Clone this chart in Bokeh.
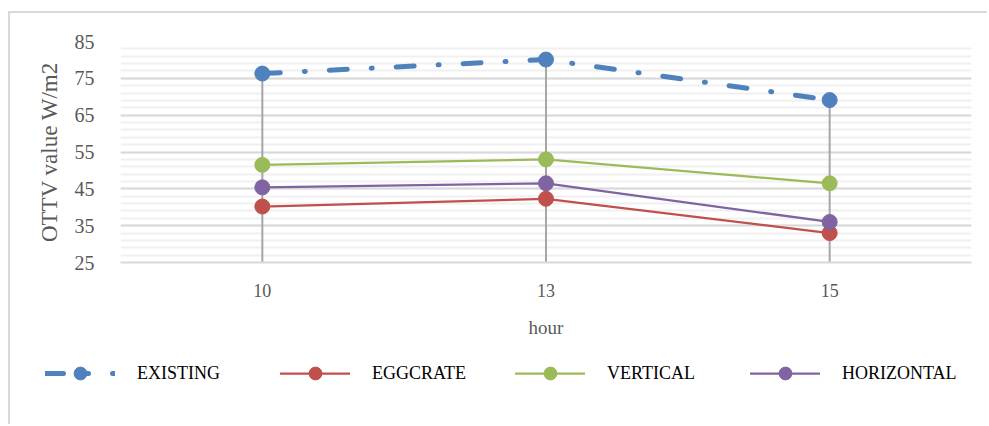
from bokeh.plotting import figure
from bokeh.models import FactorRange, Range1d, FixedTicker, Legend, LegendItem
from bokeh.layouts import column
from bokeh.embed import file_html
from bokeh.resources import INLINE

hours = ["10", "13", "15"]
existing = [76.3, 80.1, 69.1]
eggcrate = [40.2, 42.3, 33.0]
vertical = [51.5, 53.0, 46.5]
horizontal = [45.4, 46.5, 36.0]
y_ticks = [25, 35, 45, 55, 65, 75, 85]
y_minor = list(range(25, 86, 2))

p = figure(x_range=FactorRange(factors=hours, range_padding=0),
           y_range=Range1d(25, 85),
           width=979, height=327, output_backend="svg", toolbar_location=None,
           min_border_left=110, min_border_right=18, min_border_top=28, min_border_bottom=77)
p.margin = (11, 0, 0, 8)
p.styles = {"border-left": "2px solid #D9D9D9", "border-top": "2px solid #D9D9D9"}
p.outline_line_color = None
p.background_fill_color = "white"
p.border_fill_color = "white"

# grid
p.xgrid.grid_line_color = None
p.yaxis.ticker = FixedTicker(ticks=y_ticks, minor_ticks=y_minor)
p.ygrid.grid_line_color = "#D9D9D9"
p.ygrid.grid_line_width = 2
p.ygrid.minor_grid_line_color = "#F0F0F0"
p.ygrid.minor_grid_line_width = 2

# axes
for ax in (p.xaxis[0], p.yaxis[0]):
    ax.major_label_text_font = "Liberation Serif"
    ax.major_label_text_color = "#595959"
    ax.axis_label_text_font = "Liberation Serif"
    ax.axis_label_text_color = "#595959"
    ax.axis_label_text_font_style = "normal"
    ax.major_tick_line_color = None
    ax.minor_tick_line_color = None
p.yaxis.axis_line_color = None
p.yaxis.major_label_text_font_size = "20px"
p.yaxis.major_label_standoff = 20
p.yaxis.axis_label = "OTTV value W/m2"
p.yaxis.axis_label_text_font_size = "23px"
p.yaxis.axis_label_standoff = 10
p.xaxis.axis_line_color = "#D9D9D9"
p.xaxis.axis_line_width = 2
p.xaxis.major_label_text_font_size = "18px"
p.xaxis.major_label_standoff = 15
p.xaxis.axis_label = "hour"
p.xaxis.axis_label_text_font_size = "19px"
p.xaxis.axis_label_standoff = 17

# drop lines
tops = [max(a, b, c, d) for a, b, c, d in zip(existing, eggcrate, vertical, horizontal)]
p.segment(x0=hours, y0=tops, x1=hours, y1=[25] * len(hours), line_color="#A6A6A6", line_width=2)

series = [
    ("EXISTING", existing, "#4F81BD", 5, "18 24 1 24"),
    ("EGGCRATE", eggcrate, "#C0504D", 2.25, "solid"),
    ("VERTICAL", vertical, "#9BBB59", 2.25, "solid"),
    ("HORIZONTAL", horizontal, "#8064A2", 2.25, "solid"),
]

# legend strip (its own figure; data drawn out of its visible range, only the legend shows)
q = figure(x_range=FactorRange(factors=hours, range_padding=0), y_range=Range1d(1000, 1001),
           width=979, height=86,
           output_backend="svg", toolbar_location=None, x_axis_type=None, y_axis_type=None,
           min_border=0)
q.margin = (0, 0, 0, 8)
q.styles = {"border-left": "2px solid #D9D9D9"}
q.outline_line_color = None
q.xgrid.grid_line_color = None
q.ygrid.grid_line_color = None
leg_x = -75
if "frame_align" in q.properties():
    q.frame_align = False
    p.frame_align = False
    leg_x = 35

items = []
for name, vals, col, lw, dash in series:
    p.line(hours, vals, line_color=col, line_width=lw, line_dash=dash, line_cap="round")
    p.scatter(hours, vals, size=15, fill_color=col, line_color=col)
    lr = q.line(hours, vals, line_color=col, line_width=lw, line_dash=dash, line_cap="round")
    sr = q.scatter(hours, vals, size=13, fill_color=col, line_color=col)
    items.append(LegendItem(label=name, renderers=[lr, sr]))

legend = Legend(items=items, orientation="horizontal", location=(leg_x, 35),
                glyph_width=70, glyph_height=32, label_standoff=22, label_width=120,
                spacing=23, padding=0, margin=0,
                label_text_font="Liberation Serif", label_text_font_size="18px",
                label_text_color="black", border_line_color=None,
                background_fill_alpha=0)
q.add_layout(legend, "center")

layout = column(p, q, spacing=0)
open("out.html", "w").write(file_html(layout, INLINE))
